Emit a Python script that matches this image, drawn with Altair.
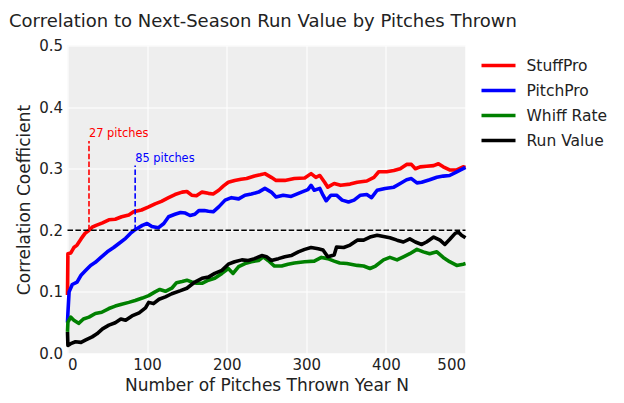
import altair as alt
import pandas as pd

# ---------------- data ----------------
series_names = ["StuffPro", "PitchPro", "Whiff Rate", "Run Value"]
series_colors = ["red", "blue", "green", "black"]

stuff_x = [0, 0.5, 4, 8, 12, 17, 22, 27, 31, 36, 44, 52, 60, 68, 77, 83, 93, 102, 110, 118,
           127, 135, 144, 150, 156, 162, 169, 177, 183, 190, 196, 202, 210, 218, 225, 235,
           242, 248, 256, 262, 273, 285, 298, 306, 312, 317, 323, 327, 335, 343, 355, 364,
           376, 385, 391, 401, 410, 418, 426, 432, 437, 443, 451, 460, 466, 472, 480, 489,
           497, 500]
stuff_y = [0.095, 0.162, 0.163, 0.172, 0.176, 0.186, 0.195, 0.200, 0.205, 0.208, 0.212,
           0.217, 0.218, 0.222, 0.225, 0.230, 0.233, 0.238, 0.243, 0.247, 0.253, 0.258,
           0.262, 0.263, 0.257, 0.256, 0.262, 0.260, 0.259, 0.265, 0.272, 0.278, 0.281,
           0.283, 0.284, 0.288, 0.290, 0.292, 0.286, 0.281, 0.281, 0.284, 0.285, 0.292,
           0.286, 0.289, 0.278, 0.270, 0.276, 0.273, 0.275, 0.278, 0.280, 0.286, 0.295,
           0.295, 0.297, 0.300, 0.307, 0.307, 0.300, 0.303, 0.304, 0.305, 0.308, 0.303,
           0.298, 0.298, 0.303, 0.302]

pitch_x = [0, 0.5, 2, 6, 12, 17, 23, 29, 35, 42, 50, 58, 65, 73, 79, 85, 94, 100, 106, 114,
           121, 127, 135, 142, 148, 154, 160, 165, 172, 177, 183, 190, 198, 206, 215, 223,
           231, 240, 248, 256, 262, 271, 281, 294, 302, 306, 310, 317, 321, 325, 331, 338,
           345, 353, 360, 368, 376, 382, 389, 399, 410, 418, 426, 432, 439, 445, 455, 464,
           472, 480, 489, 497, 500]
pitch_y = [0.050, 0.065, 0.100, 0.112, 0.116, 0.127, 0.135, 0.143, 0.148, 0.156, 0.165,
           0.172, 0.179, 0.187, 0.195, 0.201, 0.208, 0.211, 0.206, 0.204, 0.211, 0.222,
           0.226, 0.229, 0.228, 0.224, 0.226, 0.232, 0.232, 0.231, 0.230, 0.238, 0.249,
           0.253, 0.251, 0.257, 0.259, 0.262, 0.268, 0.262, 0.254, 0.257, 0.255, 0.262,
           0.266, 0.273, 0.265, 0.268, 0.257, 0.248, 0.257, 0.257, 0.249, 0.246, 0.249,
           0.257, 0.258, 0.253, 0.265, 0.268, 0.270, 0.276, 0.282, 0.284, 0.277, 0.278,
           0.282, 0.286, 0.288, 0.289, 0.295, 0.300, 0.302]

whiff_x = [0, 0.5, 4, 8, 14, 20, 27, 35, 43, 52, 60, 68, 77, 85, 94, 102, 110, 116, 123,
           131, 137, 144, 150, 156, 162, 169, 177, 185, 194, 202, 208, 215, 223, 231, 240,
           246, 252, 260, 269, 277, 285, 298, 310, 319, 327, 335, 342, 351, 364, 372, 380,
           387, 397, 405, 414, 422, 430, 439, 447, 455, 464, 472, 480, 489, 497, 500]
whiff_y = [0.035, 0.051, 0.059, 0.054, 0.049, 0.056, 0.059, 0.065, 0.067, 0.073, 0.077,
           0.080, 0.083, 0.086, 0.090, 0.094, 0.100, 0.104, 0.101, 0.106, 0.115, 0.117,
           0.119, 0.116, 0.114, 0.114, 0.119, 0.122, 0.130, 0.138, 0.130, 0.141, 0.146,
           0.149, 0.151, 0.157, 0.151, 0.142, 0.142, 0.145, 0.147, 0.149, 0.150, 0.156,
           0.154, 0.150, 0.147, 0.146, 0.143, 0.142, 0.138, 0.142, 0.152, 0.156, 0.152,
           0.157, 0.162, 0.169, 0.165, 0.162, 0.165, 0.156, 0.149, 0.143, 0.145, 0.146]

runval_x = [0, 0.5, 4, 10, 17, 23, 31, 37, 44, 52, 60, 67, 73, 81, 90, 98, 102, 108, 115,
            123, 131, 142, 150, 160, 169, 177, 185, 194, 202, 210, 219, 227, 235, 244, 250,
            256, 265, 273, 281, 290, 298, 306, 315, 321, 327, 335, 338, 347, 355, 364, 372,
            380, 389, 397, 405, 414, 422, 430, 437, 445, 451, 460, 468, 474, 480, 487, 491,
            495, 500]
runval_y = [0.035, 0.013, 0.016, 0.019, 0.018, 0.022, 0.027, 0.032, 0.040, 0.046, 0.050,
            0.056, 0.054, 0.061, 0.066, 0.074, 0.083, 0.081, 0.088, 0.092, 0.097, 0.102,
            0.106, 0.116, 0.122, 0.124, 0.130, 0.135, 0.145, 0.149, 0.152, 0.151, 0.154,
            0.159, 0.157, 0.151, 0.154, 0.157, 0.159, 0.165, 0.169, 0.172, 0.170, 0.168,
            0.157, 0.160, 0.173, 0.172, 0.176, 0.184, 0.184, 0.189, 0.192, 0.190, 0.188,
            0.184, 0.181, 0.186, 0.181, 0.177, 0.181, 0.189, 0.184, 0.177, 0.185, 0.195,
            0.197, 0.192, 0.188]

# threshold annotations
thresh_x = [27, 85]
thresh_top = [0.345, 0.305]
thresh_label = ["27 pitches", "85 pitches"]
thresh_color = ["red", "blue"]
ref_level = 0.2
x_ticks = [0, 100, 200, 300, 400, 500]
y_ticks = [0.0, 0.1, 0.2, 0.3, 0.4, 0.5]

# ---------------- tables ----------------
rows = []
for name, xs, ys in zip(series_names,
                        [stuff_x, pitch_x, whiff_x, runval_x],
                        [stuff_y, pitch_y, whiff_y, runval_y]):
    for i, (a, b) in enumerate(zip(xs, ys)):
        rows.append({"pitches": a, "corr": b, "series": name, "idx": i})
df = pd.DataFrame(rows)

ann = pd.DataFrame({"x": thresh_x, "top": thresh_top, "label": thresh_label,
                    "color": thresh_color, "base": [ref_level] * len(thresh_x)})
href = pd.DataFrame({"x0": [0], "x1": [500], "y": [ref_level]})

FONT = "DejaVu Sans"
xscale = alt.Scale(domain=[0, 500], nice=False, zero=False)
yscale = alt.Scale(domain=[0, 0.5], nice=False, zero=False)

PW, PH = 398, 308

lines = alt.Chart(df).mark_line(strokeWidth=3.6, strokeJoin="round").encode(
    x=alt.X("pitches:Q", scale=xscale,
            axis=alt.Axis(values=x_ticks, title="Number of Pitches Thrown Year N",
                          titleX=PW / 2, titleY=32, titleBaseline="middle",
                          labelPadding=4)),
    y=alt.Y("corr:Q", scale=yscale,
            axis=alt.Axis(values=y_ticks, format=".1f", title="Correlation Coefficient",
                          titleX=-43, titleY=PH / 2, titleBaseline="middle",
                          titleAlign="center", titleAngle=-90, labelPadding=5)),
    color=alt.Color("series:N",
                    scale=alt.Scale(domain=series_names, range=series_colors),
                    legend=alt.Legend(title=None, orient="none", legendX=412, legendY=12,
                                      symbolType="stroke", symbolSize=1156,
                                      symbolStrokeWidth=3.5, labelFontSize=15.5,
                                      labelOffset=9, clipHeight=16, rowPadding=8,
                                      labelFont=FONT, labelColor="#222222")),
    order=alt.Order("idx:Q"),
)

hline = alt.Chart(href).mark_rule(color="black", strokeWidth=1.6,
                                  strokeDash=[5.5, 2.4]).encode(
    x=alt.X("x0:Q", scale=xscale), x2="x1:Q", y=alt.Y("y:Q", scale=yscale))

vlines = alt.Chart(ann).mark_rule(strokeWidth=1.6, strokeDash=[5.5, 2.4]).encode(
    x=alt.X("x:Q", scale=xscale), y=alt.Y("base:Q", scale=yscale), y2="top:Q",
    color=alt.Color("color:N", scale=None))

labels = alt.Chart(ann).mark_text(align="left", baseline="alphabetic", dy=-4,
                                  fontSize=11.4, font=FONT).encode(
    x=alt.X("x:Q", scale=xscale), y=alt.Y("top:Q", scale=yscale),
    text="label:N", color=alt.Color("color:N", scale=None))

chart = alt.layer(lines, hline, vlines, labels).properties(
    width=PW, height=PH,
    title=alt.TitleParams("Correlation to Next-Season Run Value by Pitches Thrown",
                          anchor="start", frame="group", dx=-58.5, offset=-6,
                          baseline="alphabetic",
                          fontSize=18, font=FONT, fontWeight="normal", color="#222222"),
    autosize=alt.AutoSizeParams(type="none"),
    padding={"left": 59.5, "top": 37.5, "right": 608 - 59.5 - PW, "bottom": 387 - 37.5 - PH},
).configure_view(
    fill="#eeeeee", stroke=None
).configure_axis(
    grid=True, gridColor="white", gridWidth=1.1, domain=False, ticks=False, tickSize=0,
    labelFont=FONT, titleFont=FONT, labelFontSize=15, titleFontSize=17,
    labelColor="#222222", titleColor="#222222", titleFontWeight="normal"
)

chart.save("out.html", embed_options={"renderer": "svg", "actions": False})
